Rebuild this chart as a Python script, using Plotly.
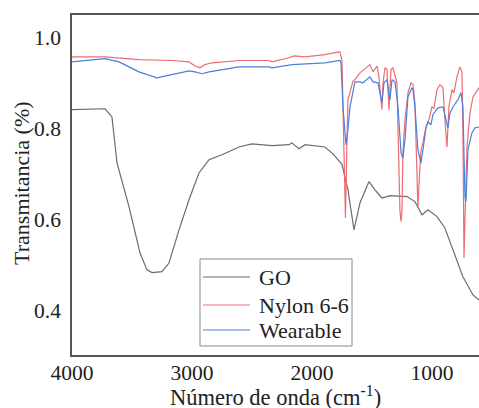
import plotly.graph_objects as go

# ---- data ----
wn_go = [4000, 3725, 3667, 3625, 3525, 3433, 3375, 3333, 3250, 3192, 3108, 3025, 2942, 2858,
         2750, 2608, 2500, 2333, 2192, 2167, 2108, 2058, 1892, 1825, 1750, 1700, 1650, 1600,
         1525, 1475, 1417, 1350, 1208, 1142, 1083, 1033, 958, 892, 825, 742, 658, 600]
t_go = [0.842, 0.844, 0.826, 0.725, 0.629, 0.527, 0.490, 0.484, 0.486, 0.505, 0.578, 0.644,
        0.703, 0.732, 0.743, 0.760, 0.767, 0.763, 0.765, 0.769, 0.756, 0.765, 0.760, 0.745,
        0.722, 0.666, 0.578, 0.637, 0.684, 0.666, 0.648, 0.653, 0.651, 0.640, 0.611, 0.622,
        0.607, 0.582, 0.534, 0.475, 0.435, 0.422]

wn_nylon = [4000, 3725, 3442, 3167, 3025, 2975, 2933, 2892, 2833, 2608, 2358, 2333, 2192, 2150,
            2058, 1892, 1775, 1767, 1750, 1733, 1721, 1710, 1700, 1658, 1642, 1600, 1542, 1517,
            1492, 1458, 1442, 1425, 1417, 1408, 1392, 1375, 1358, 1342, 1325, 1292, 1283, 1267,
            1258, 1250, 1242, 1225, 1200, 1175, 1158, 1142, 1125, 1117, 1108, 1092, 1075, 1050,
            1025, 1000, 983, 958, 933, 908, 892, 875, 858, 833, 817, 792, 767, 750, 742, 733,
            725, 708, 683, 658, 608]
t_nylon = [0.958, 0.958, 0.952, 0.950, 0.947, 0.938, 0.934, 0.941, 0.945, 0.950, 0.950, 0.947,
           0.956, 0.960, 0.958, 0.963, 0.969, 0.969, 0.950, 0.750, 0.604, 0.750, 0.864, 0.905,
           0.908, 0.923, 0.936, 0.941, 0.925, 0.938, 0.914, 0.870, 0.842, 0.900, 0.934, 0.930,
           0.842, 0.930, 0.934, 0.901, 0.791, 0.620, 0.596, 0.620, 0.750, 0.820, 0.879, 0.901,
           0.897, 0.857, 0.700, 0.626, 0.680, 0.750, 0.770, 0.804, 0.820, 0.848, 0.845, 0.886,
           0.897, 0.890, 0.820, 0.760, 0.850, 0.886, 0.879, 0.914, 0.936, 0.925, 0.800, 0.516,
           0.600, 0.760, 0.835, 0.870, 0.890]

wn_wear = [4000, 3725, 3608, 3442, 3292, 3167, 3025, 2975, 2917, 2858, 2608, 2358, 2333, 2167,
           2058, 1892, 1767, 1758, 1742, 1725, 1717, 1700, 1683, 1642, 1600, 1575, 1542, 1517,
           1492, 1450, 1417, 1400, 1375, 1350, 1333, 1308, 1283, 1258, 1242, 1225, 1200, 1167,
           1158, 1142, 1117, 1092, 1075, 1050, 1033, 1008, 992, 950, 908, 883, 867, 850, 825,
           783, 758, 742, 725, 717, 700, 667, 642, 608]
t_wear = [0.947, 0.954, 0.947, 0.925, 0.912, 0.919, 0.927, 0.925, 0.921, 0.925, 0.936, 0.936,
          0.934, 0.941, 0.943, 0.945, 0.950, 0.945, 0.850, 0.780, 0.765, 0.800, 0.848, 0.903,
          0.903, 0.901, 0.908, 0.914, 0.903, 0.901, 0.857, 0.901, 0.908, 0.864, 0.908, 0.903,
          0.848, 0.747, 0.736, 0.776, 0.870, 0.890, 0.886, 0.848, 0.754, 0.725, 0.754, 0.802,
          0.815, 0.809, 0.831, 0.846, 0.848, 0.820, 0.802, 0.835, 0.848, 0.864, 0.879, 0.848,
          0.650, 0.640, 0.754, 0.791, 0.802, 0.804]

series_names = ["GO", "Nylon 6-6", "Wearable"]
x_ticks = [4000, 3000, 2000, 1000]
y_ticks = [0.4, 0.6, 0.8, 1.0]
x_title = "Número de onda (cm<sup>-1</sup>)"
y_title = "Transmitancia (%)"

FONT = "Liberation Serif"
colors = ["#6b6b6b", "#f06a74", "#4a7fdc"]

fig = go.Figure()
for name, xs, ys, c in zip(series_names, [wn_go, wn_nylon, wn_wear],
                           [t_go, t_nylon, t_wear], colors):
    fig.add_trace(go.Scatter(x=xs, y=ys, mode="lines", name=name,
                             line=dict(color=c, width=1.2), showlegend=False))

# legend box drawn in paper coordinates (inside plot, lower middle)
shapes = [dict(type="rect", xref="paper", yref="paper", x0=0.3145, x1=0.688,
               y0=0.0265, y1=0.2824, fillcolor="white",
               line=dict(color="#8a8a8a", width=1), layer="above")]
annotations = []
row_y = [0.2294, 0.147, 0.0735]
for name, c, yy in zip(series_names, colors, row_y):
    shapes.append(dict(type="line", xref="paper", yref="paper", x0=0.3219, x1=0.4373,
                       y0=yy, y1=yy, line=dict(color=c, width=1.2), layer="above"))
    annotations.append(dict(text=name, xref="paper", yref="paper", x=0.4545, y=yy,
                            xanchor="left", yanchor="middle", showarrow=False,
                            font=dict(family=FONT, size=22, color="#222")))

annotations += [
    dict(text=x_title, xref="paper", yref="paper", x=0.5, y=-0.1206,
         xanchor="center", yanchor="middle", showarrow=False,
         font=dict(family=FONT, size=22.5, color="#222")),
    dict(text=y_title, xref="paper", yref="paper", x=-0.1229, y=0.506,
         xanchor="center", yanchor="middle", textangle=-90, showarrow=False,
         font=dict(family=FONT, size=22, color="#222")),
]

fig.update_layout(
    width=479, height=408,
    margin=dict(l=72, r=0, t=15, b=53, autoexpand=False),
    paper_bgcolor="white", plot_bgcolor="white",
    font=dict(family=FONT, size=21, color="#222"),
    showlegend=False,
    xaxis=dict(range=[4000, 608], tickvals=x_ticks, ticktext=[str(v) for v in x_ticks],
               showgrid=False, zeroline=False, showline=True, mirror=True,
               linecolor="#555", linewidth=1.5, ticks="", ticklabelstandoff=-3,
               tickfont=dict(family=FONT, size=21.5, color="#222"),
               automargin=False),
    yaxis=dict(range=[0.303, 1.05], tickvals=y_ticks, ticktext=["0.4", "0.6", "0.8", "1.0"],
               showgrid=False, zeroline=False, showline=True, mirror=False,
               linecolor="#555", linewidth=1.5, ticks="", ticklabelstandoff=5,
               tickfont=dict(family=FONT, size=21.5, color="#222"),
               automargin=False),
    shapes=shapes,
    annotations=annotations,
)

fig.write_html("out.html", config={"displayModeBar": False},
               post_script="document.body.style.margin='0';document.body.style.overflow='hidden';")
